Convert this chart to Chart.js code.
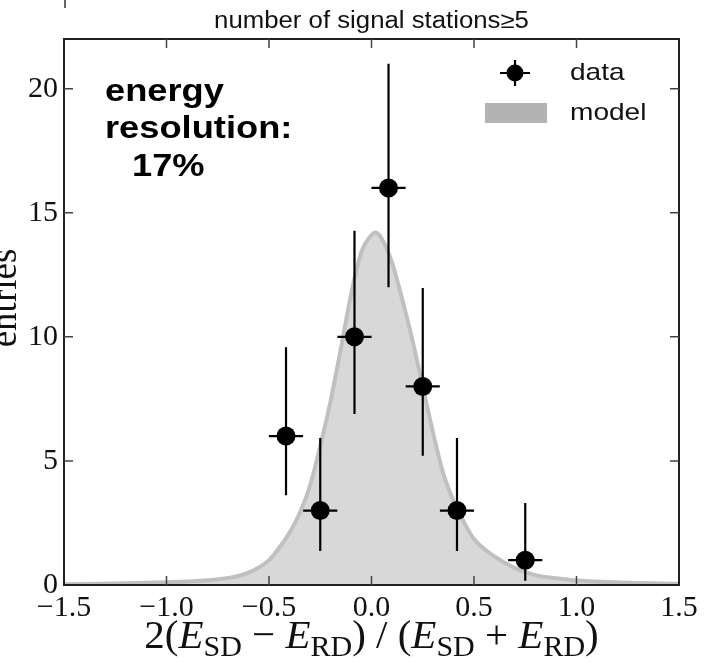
<!DOCTYPE html>
<html>
<head>
<meta charset="utf-8">
<script src="https://cdn.jsdelivr.net/npm/chart.js@4"></script>
<style>
  html, body { margin: 0; padding: 0; background: #fff; overflow: hidden; }
  #wrap { width: 707px; height: 666px; position: relative; }
</style>
</head>
<body>
<div id="wrap"><canvas id="chart" width="707" height="666"></canvas></div>
<script>
// histogram points (bin centres, counts, asymmetric Poisson bounds)
const binCenters = [-0.417, -0.25, -0.083, 0.083, 0.25, 0.417, 0.75];
const counts = [6, 3, 10, 16, 8, 3, 1];
const errUpper = [9.58, 5.92, 14.27, 21.0, 11.97, 5.92, 3.3];
const errLower = [3.62, 1.37, 6.89, 12.0, 5.21, 1.37, 0.17];
const binHalfWidth = [0.0833, 0.0833, 0.0833, 0.0833, 0.0833, 0.0833, 0.0833];

// model curve
const modelX = [-1.5, -1.25, -1.0, -0.9, -0.8, -0.7, -0.6, -0.5, -0.45, -0.4, -0.35, -0.3, -0.25, -0.2, -0.15, -0.1, -0.05, 0.0, 0.02, 0.05, 0.1, 0.15, 0.2, 0.25, 0.3, 0.35, 0.4, 0.45, 0.5, 0.6, 0.7, 0.8, 0.9, 1.0, 1.25, 1.5];
const modelY = [0.03, 0.06, 0.11, 0.14, 0.19, 0.28, 0.5, 1.0, 1.5, 2.1, 2.9, 4.0, 5.6, 7.4, 9.5, 11.7, 13.4, 14.1, 14.2, 13.95, 13.0, 11.5, 9.85, 8.0, 6.15, 4.5, 3.4, 2.55, 1.85, 1.15, 0.68, 0.4, 0.27, 0.18, 0.09, 0.05];

const xTicks = [-1.5, -1.0, -0.5, 0.0, 0.5, 1.0, 1.5];
const xTickLabels = ['\u22121.5', '\u22121.0', '\u22120.5', '0.0', '0.5', '1.0', '1.5'];
const yTicks = [0, 5, 10, 15, 20];
const yTickLabels = ['0', '5', '10', '15', '20'];

const SERIF = '"Liberation Serif", "DejaVu Serif", serif';
const SANS = '"Liberation Sans", Arial, sans-serif';

// text slightly stretched sideways, like the reference
function wideText(ctx, text, x, y, sx) {
  ctx.save();
  ctx.translate(x, y);
  ctx.scale(sx, 1);
  ctx.fillText(text, 0, 0);
  ctx.restore();
}

function drawMathLabel(ctx, parts, cx, baseline, size) {
  const fontFor = k => k === 'i' ? `italic ${size}px ${SERIF}` : k === 's' ? `${Math.round(size * 0.72)}px ${SERIF}` : `${size}px ${SERIF}`;
  let total = 0;
  parts.forEach(([t, k]) => { ctx.font = fontFor(k); total += ctx.measureText(t).width; });
  let x = cx - total / 2;
  ctx.textAlign = 'left';
  ctx.textBaseline = 'alphabetic';
  parts.forEach(([t, k]) => {
    ctx.font = fontFor(k);
    ctx.fillText(t, x, k === 's' ? baseline + size * 0.2 : baseline);
    x += ctx.measureText(t).width;
  });
}

const decorations = {
  id: 'decorations',
  afterDatasetsDraw(chart) {
    const { ctx, scales: { x, y } } = chart;
    ctx.save();
    ctx.strokeStyle = '#000';
    ctx.lineWidth = 2.2;
    binCenters.forEach((c, i) => {
      const px = x.getPixelForValue(c);
      const py = y.getPixelForValue(counts[i]);
      ctx.beginPath();
      ctx.moveTo(px, y.getPixelForValue(errLower[i]));
      ctx.lineTo(px, y.getPixelForValue(errUpper[i]));
      ctx.moveTo(x.getPixelForValue(c - binHalfWidth[i]), py);
      ctx.lineTo(x.getPixelForValue(c + binHalfWidth[i]), py);
      ctx.stroke();
    });
    ctx.restore();
  },
  afterDraw(chart) {
    const { ctx, chartArea: a, scales: { x, y } } = chart;
    ctx.save();

    // frame
    ctx.strokeStyle = '#222';
    ctx.lineWidth = 2;
    ctx.strokeRect(a.left, a.top, a.right - a.left, a.bottom - a.top);

    // inward ticks on all sides
    ctx.strokeStyle = '#444';
    ctx.lineWidth = 1.5;
    x.ticks.forEach(t => {
      const px = x.getPixelForValue(t.value);
      if (px <= a.left + 1 || px >= a.right - 1) return;
      ctx.beginPath();
      ctx.moveTo(px, a.bottom); ctx.lineTo(px, a.bottom - 9);
      ctx.moveTo(px, a.top); ctx.lineTo(px, a.top + 9);
      ctx.stroke();
    });
    y.ticks.forEach(t => {
      const py = y.getPixelForValue(t.value);
      if (py >= a.bottom - 1 || py <= a.top + 1) return;
      ctx.beginPath();
      ctx.moveTo(a.left, py); ctx.lineTo(a.left + 9, py);
      ctx.moveTo(a.right, py); ctx.lineTo(a.right - 9, py);
      ctx.stroke();
    });

    // stub of the panel above
    ctx.strokeStyle = '#333';
    ctx.lineWidth = 1.5;
    ctx.beginPath();
    ctx.moveTo(a.left + 1, 0); ctx.lineTo(a.left + 1, 8);
    ctx.stroke();

    ctx.fillStyle = '#111';

    // title
    ctx.font = `23px ${SANS}`;
    ctx.textAlign = 'left';
    ctx.textBaseline = 'alphabetic';
    const title = 'number of signal stations\u22655';
    const tw = ctx.measureText(title).width * 1.12;
    wideText(ctx, title, (a.left + a.right) / 2 - tw / 2, 28, 1.12);

    // y title, cut by the left edge
    ctx.save();
    ctx.translate(16, 298);
    ctx.rotate(-Math.PI / 2);
    ctx.font = `37px ${SERIF}`;
    ctx.textAlign = 'center';
    ctx.textBaseline = 'alphabetic';
    ctx.fillText('entries', 0, 0);
    ctx.restore();

    // x title
    drawMathLabel(ctx, [['2(', 'n'], ['E', 'i'], ['SD', 's'], [' \u2212 ', 'n'], ['E', 'i'], ['RD', 's'], [') / (', 'n'],
      ['E', 'i'], ['SD', 's'], [' + ', 'n'], ['E', 'i'], ['RD', 's'], [')', 'n']], (a.left + a.right) / 2, 648, 41);

    // annotation
    ctx.fillStyle = '#000';
    ctx.font = `bold 31px ${SANS}`;
    ctx.textAlign = 'left';
    wideText(ctx, 'energy', 105, 101, 1.17);
    wideText(ctx, 'resolution:', 105, 138, 1.17);
    wideText(ctx, '17%', 132, 176, 1.17);

    // legend
    const mx = 515, my = 73;
    ctx.strokeStyle = '#000';
    ctx.lineWidth = 2.2;
    ctx.beginPath();
    ctx.moveTo(mx - 15, my); ctx.lineTo(mx + 15, my);
    ctx.moveTo(mx, my - 13); ctx.lineTo(mx, my + 13);
    ctx.stroke();
    ctx.beginPath();
    ctx.arc(mx, my, 8.5, 0, Math.PI * 2);
    ctx.fill();
    ctx.fillStyle = '#b3b3b3';
    ctx.fillRect(485, 103, 62, 20);
    ctx.fillStyle = '#111';
    ctx.font = `24px ${SANS}`;
    ctx.textBaseline = 'middle';
    wideText(ctx, 'data', 570, my, 1.17);
    wideText(ctx, 'model', 570, 113, 1.17);

    ctx.restore();
  }
};

const ctx = document.getElementById('chart').getContext('2d');
new Chart(ctx, {
  type: 'scatter',
  data: {
    datasets: [
      {
        type: 'scatter',
        label: 'data',
        data: binCenters.map((c, i) => ({ x: c, y: counts[i] })),
        pointRadius: 9.5,
        pointBackgroundColor: '#000',
        pointBorderWidth: 0,
        order: 0
      },
      {
        type: 'line',
        label: 'model',
        data: modelX.map((v, i) => ({ x: v, y: modelY[i] })),
        borderColor: '#c0c0c0',
        borderWidth: 4,
        backgroundColor: '#d8d8d8',
        fill: 'origin',
        pointRadius: 0,
        cubicInterpolationMode: 'monotone',
        order: 1
      }
    ]
  },
  options: {
    responsive: false,
    animation: false,
    devicePixelRatio: 1,
    layout: { padding: { top: 39, right: 28, left: 0, bottom: 0 } },
    plugins: { legend: { display: false }, tooltip: { enabled: false } },
    scales: {
      x: {
        type: 'linear', min: -1.5, max: 1.5,
        afterBuildTicks: s => { s.ticks = xTicks.map(v => ({ value: v })); },
        afterFit: s => { s.height = 81; },
        grid: { display: false, drawTicks: false },
        border: { display: false },
        ticks: {
          callback: v => xTickLabels[xTicks.indexOf(v)],
          font: { family: SERIF, size: 30 }, color: '#111', padding: 5, maxRotation: 0, autoSkip: false
        }
      },
      y: {
        min: 0, max: 22,
        afterBuildTicks: s => { s.ticks = yTicks.map(v => ({ value: v })); },
        afterFit: s => { s.width = 64; },
        grid: { display: false, drawTicks: false },
        border: { display: false },
        ticks: {
          callback: v => yTickLabels[yTicks.indexOf(v)],
          font: { family: SERIF, size: 30 }, color: '#111', padding: 6
        }
      }
    }
  },
  plugins: [decorations]
});
</script>
</body>
</html>
